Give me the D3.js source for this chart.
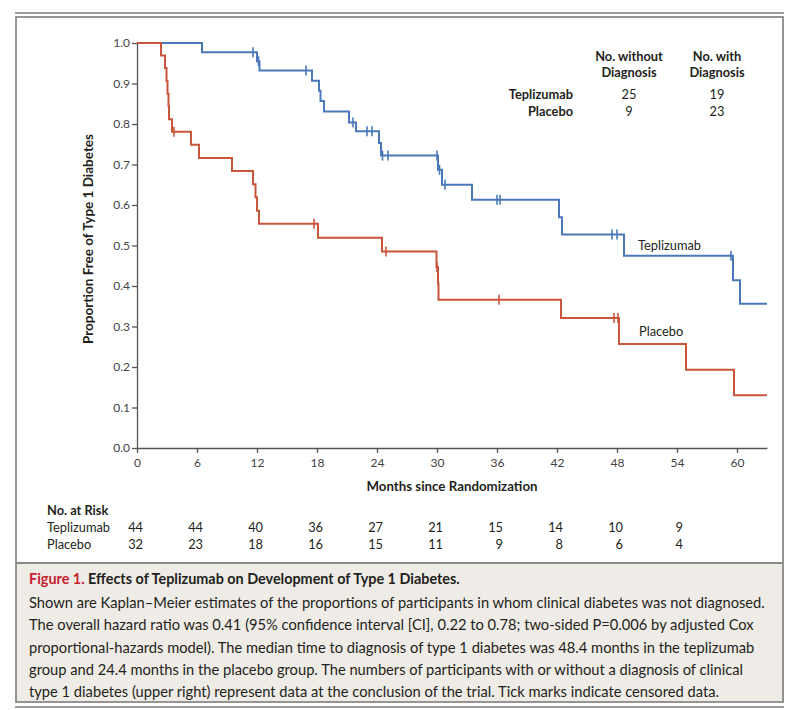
<!DOCTYPE html>
<html>

<head>
    <style>
        body {
            margin: 0;
            background: #fff;
        }
        text {
            font-family: Lato, "Open Sans", sans-serif;
            fill: #231f20;
        }
        .curve {
            fill: none;
            stroke-width: 2;
        }
        .axis path,
        .axis line {
            stroke: #555;
            stroke-width: 1.3;
        }
        .axis text {
            font-size: 12px;
            fill: #444;
        }
    </style>
</head>

<body>
    <svg id="container" height="710" width="792">
        <g id="frame"></g>
        <g id="body"></g>
        <g id="caption"></g>
    </svg>
</body>
<script src="https://d3js.org/d3.v7.min.js"></script>

<script>
    // tick labels
    let monthTicks = [0, 6, 12, 18, 24, 30, 36, 42, 48, 54, 60];
    let proportionTicks = [0, 0.1, 0.2, 0.3, 0.4, 0.5, 0.6, 0.7, 0.8, 0.9, 1.0];

    // Kaplan-Meier steps (month of drop, proportion after drop)
    let teplizumabTimes = [0, 6.5, 12.0, 12.25, 17.5, 18.2, 18.35, 18.7, 21.2, 21.9, 24.2, 24.4, 30.1, 30.5, 33.5, 42.2, 42.5, 48.7, 59.6, 60.3];
    let teplizumabSurvival = [1.0, 0.977, 0.955, 0.932, 0.907, 0.882, 0.857, 0.831, 0.804, 0.782, 0.753, 0.722, 0.687, 0.650, 0.613, 0.570, 0.527, 0.475, 0.414, 0.356];
    let teplizumabCensored = [11.6, 12.15, 16.9, 21.6, 23.0, 23.5, 24.55, 25.1, 30.0, 30.25, 30.8, 36.0, 36.3, 47.5, 48.0, 59.4];

    let placeboTimes = [0, 2.4, 2.8, 2.95, 3.05, 3.15, 3.2, 3.5, 5.4, 6.2, 9.5, 11.6, 11.85, 12.0, 12.2, 18.1, 24.5, 29.95, 30.1, 30.15, 42.4, 48.2, 54.9, 59.7];
    let placeboSurvival = [1.0, 0.969, 0.938, 0.906, 0.875, 0.844, 0.812, 0.781, 0.749, 0.716, 0.684, 0.651, 0.619, 0.586, 0.554, 0.519, 0.485, 0.447, 0.406, 0.366, 0.321, 0.257, 0.193, 0.130];
    let placeboCensored = [3.7, 17.7, 24.9, 30.0, 36.2, 47.7, 48.1];

    // no. at risk
    let atRiskMonths = [0, 6, 12, 18, 24, 30, 36, 42, 48, 54];
    let teplizumabAtRisk = [44, 44, 40, 36, 27, 21, 15, 14, 10, 9];
    let placeboAtRisk = [32, 23, 18, 16, 15, 11, 9, 8, 6, 4];

    // summary table (upper right)
    let groups = ["Teplizumab", "Placebo"];
    let withoutDiagnosis = [25, 9];
    let withDiagnosis = [19, 23];

    let captionTitle = "Effects of Teplizumab on Development of Type 1 Diabetes.";
    let captionLines = [
        "Shown are Kaplan\u2013Meier estimates of the proportions of participants in whom clinical diabetes was not diagnosed.",
        "The overall hazard ratio was 0.41 (95% confidence interval [CI], 0.22 to 0.78; two-sided P=0.006 by adjusted Cox",
        "proportional-hazards model). The median time to diagnosis of type 1 diabetes was 48.4 months in the teplizumab",
        "group and 24.4 months in the placebo group. The numbers of participants with or without a diagnosis of clinical",
        "type 1 diabetes (upper right) represent data at the conclusion of the trial. Tick marks indicate censored data."
    ];

    let blue = "#4a78b9";
    let red = "#c9553b";

    let svg = d3.select("#container");
    let body = d3.select("#body");

    let x = d3.scaleLinear().domain([0, 63]).range([137, 767]);
    let y = d3.scaleLinear().domain([0, 1]).range([448, 43]);

    drawFrame();
    drawAxes();
    drawCurve(teplizumabTimes, teplizumabSurvival, teplizumabCensored, blue);
    drawCurve(placeboTimes, placeboSurvival, placeboCensored, red);
    drawLabels();
    drawAtRisk();
    drawCaption();

    function drawFrame() {
        let frame = d3.select("#frame");
        frame.append("line")
            .attr("x1", 15).attr("x2", 784).attr("y1", 13).attr("y2", 13)
            .attr("stroke", "#9a9a9a").attr("stroke-width", 2);
        frame.append("rect")
            .attr("x", 16).attr("y", 563).attr("width", 767).attr("height", 139)
            .attr("fill", "#efebe6");
        frame.append("rect")
            .attr("x", 16).attr("y", 17).attr("width", 767).attr("height", 685)
            .attr("fill", "none").attr("stroke", "#8a8a8a").attr("stroke-width", 1.8);
        frame.append("line")
            .attr("x1", 16).attr("x2", 783).attr("y1", 563).attr("y2", 563)
            .attr("stroke", "#8a8a8a").attr("stroke-width", 2);
        frame.append("line")
            .attr("x1", 15).attr("x2", 784).attr("y1", 707).attr("y2", 707)
            .attr("stroke", "#9a9a9a").attr("stroke-width", 2);
    }

    function drawAxes() {
        body.append("g")
            .attr("class", "axis")
            .attr("transform", `translate(0, ${y(0)})`)
            .call(d3.axisBottom(x).tickValues(monthTicks).tickSize(5).tickSizeOuter(0).tickPadding(5));
        body.append("g")
            .attr("class", "axis")
            .attr("transform", `translate(${x(0)}, 0)`)
            .call(d3.axisLeft(y).tickValues(proportionTicks).tickFormat(d3.format(".1f")).tickSize(5).tickSizeOuter(0).tickPadding(2));

        body.append("text")
            .text("Months since Randomization")
            .attr("x", 452).attr("y", 491)
            .attr("text-anchor", "middle")
            .attr("font-size", 13.3)
            .attr("font-weight", "bold");
        body.append("text")
            .text("Proportion Free of Type 1 Diabetes")
            .attr("transform", "translate(93, 239) rotate(-90)")
            .attr("text-anchor", "middle")
            .attr("font-size", 13.5)
            .attr("font-weight", "bold");
    }

    function valueAt(times, survival, t) {
        let i = d3.bisectRight(times, t) - 1;
        return survival[Math.max(i, 0)];
    }

    function drawCurve(times, survival, censored, color) {
        let points = times.map((t, i) => [t, survival[i]]);
        points.push([63, survival[survival.length - 1]]);
        let line = d3.line()
            .x((d) => x(d[0]))
            .y((d) => y(d[1]))
            .curve(d3.curveStepAfter);
        body.append("path")
            .attr("class", "curve")
            .attr("d", line(points))
            .attr("stroke", color);
        body.append("g")
            .selectAll("line")
            .data(censored)
            .enter()
            .append("line")
                .attr("x1", (d) => x(d))
                .attr("x2", (d) => x(d))
                .attr("y1", (d) => y(valueAt(times, survival, d)) - 5)
                .attr("y2", (d) => y(valueAt(times, survival, d)) + 5)
                .attr("stroke", color)
                .attr("stroke-width", 1.6);
    }

    function drawLabels() {
        body.append("text").text("Teplizumab")
            .attr("x", 638).attr("y", 250).attr("font-size", 12.8);
        body.append("text").text("Placebo")
            .attr("x", 639).attr("y", 336).attr("font-size", 12.8);

        // summary table
        let cols = [629, 717];
        let heads = [["No. without", "Diagnosis"], ["No. with", "Diagnosis"]];
        heads.forEach((h, c) => {
            h.forEach((s, r) => {
                body.append("text").text(s)
                    .attr("x", cols[c]).attr("y", 61 + r * 16)
                    .attr("text-anchor", "middle")
                    .attr("font-size", 12.8)
                    .attr("font-weight", "bold");
            });
        });
        let rows = body.append("g")
            .selectAll("g")
            .data(groups)
            .enter()
            .append("g")
            .attr("transform", (d, i) => `translate(0, ${99 + i * 17})`);
        rows.append("text")
            .text((d) => d)
            .attr("x", 573)
            .attr("text-anchor", "end")
            .attr("font-size", 12.8)
            .attr("font-weight", "bold");
        rows.append("text")
            .text((d, i) => withoutDiagnosis[i])
            .attr("x", cols[0])
            .attr("text-anchor", "middle")
            .attr("font-size", 12.8);
        rows.append("text")
            .text((d, i) => withDiagnosis[i])
            .attr("x", cols[1])
            .attr("text-anchor", "middle")
            .attr("font-size", 12.8);
    }

    function drawAtRisk() {
        body.append("text").text("No. at Risk")
            .attr("x", 47).attr("y", 515)
            .attr("font-size", 12.8)
            .attr("font-weight", "bold");
        let series = [["Teplizumab", teplizumabAtRisk], ["Placebo", placeboAtRisk]];
        series.forEach((s, r) => {
            let row = body.append("g").attr("transform", `translate(0, ${532 + r * 17})`);
            row.append("text").text(s[0])
                .attr("x", 47).attr("font-size", 12.8);
            row.selectAll(".n")
                .data(s[1])
                .enter()
                .append("text")
                    .attr("class", "n")
                    .text((d) => d)
                    .attr("x", (d, i) => x(atRiskMonths[i]) + 6)
                    .attr("text-anchor", "end")
                    .attr("font-size", 12.8);
        });
    }

    function drawCaption() {
        let caption = d3.select("#caption");
        let title = caption.append("text")
            .attr("x", 29).attr("y", 584)
            .attr("font-size", 14.4)
            .attr("font-weight", "bold");
        title.append("tspan").text("Figure 1. ").attr("fill", "#c8202f");
        title.append("tspan").text(captionTitle);
        caption.selectAll(".line")
            .data(captionLines)
            .enter()
            .append("text")
                .attr("class", "line")
                .text((d) => d)
                .attr("x", 29)
                .attr("y", (d, i) => 608 + i * 22.3)
                .attr("font-size", 14.7)
                .attr("fill", "#333");
    }
</script>

</html>
